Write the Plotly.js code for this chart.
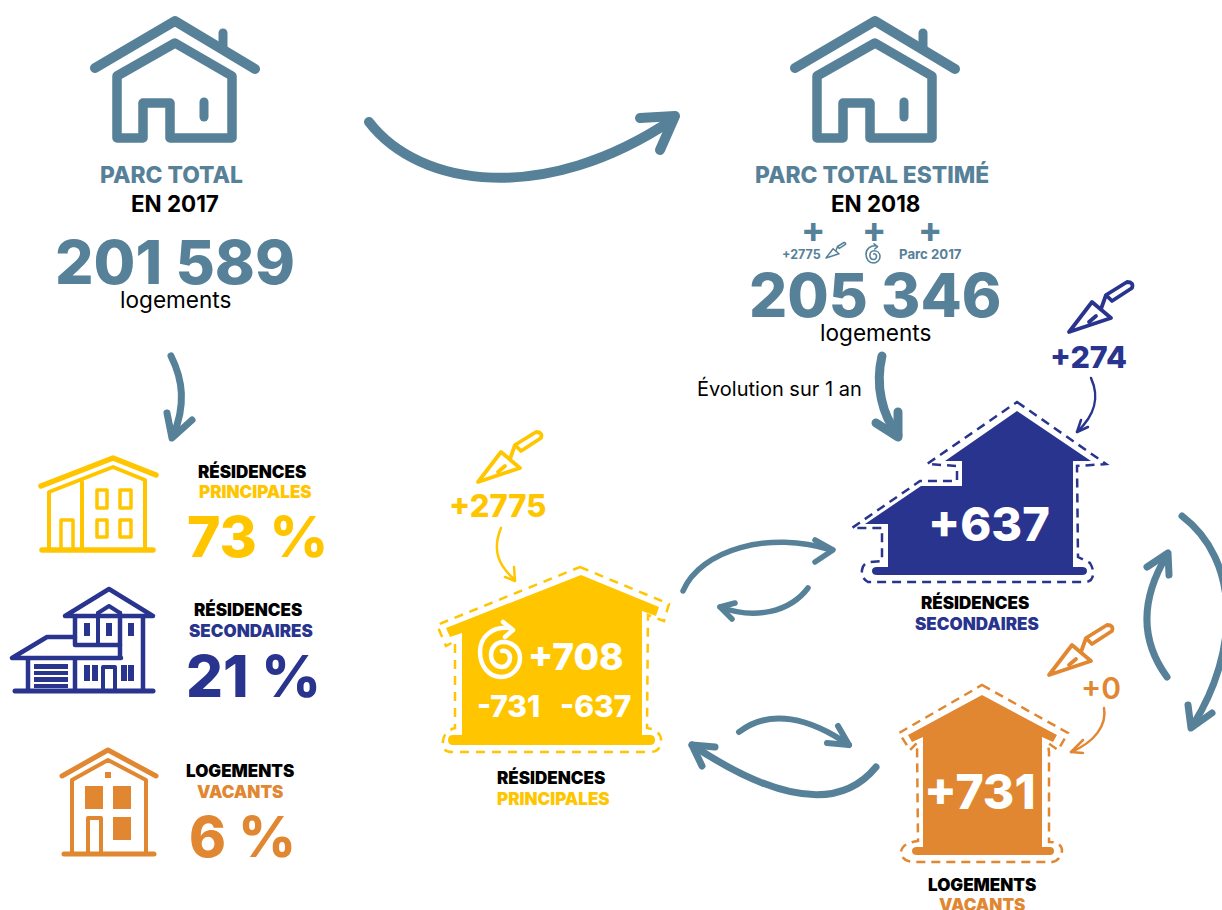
<!DOCTYPE html>
<html><head><meta charset="utf-8">
<script src="https://cdn.plot.ly/plotly-3.0.1.min.js"></script>
<style>
html,body{margin:0;padding:0;background:#fff}
#c{width:1222px;height:910px}
.shapelayer path{stroke-linecap:round;stroke-linejoin:round}
.shapelayer path[style*="dasharray: 9"]{stroke-linecap:butt;stroke-linejoin:miter}
</style></head><body><div id="c"></div>
<script>
const BLUE='#568198',YEL='#ffc600',NAVY='#29348e',ORA='#e18731',BLK='#000',WHT='#fff';
const FONT='Inter, Lato, sans-serif';

// values
const parcTotal=['201 589','205 346'];
const partShares=['73 %','21 %','6 %'];
const newBuild=['+2775','+274','+0'];
const netChange=['+708','+637','+731'];
const outflows=['-731','-637'];
const categories=[['RÉSIDENCES','PRINCIPALES'],['RÉSIDENCES','SECONDAIRES'],['LOGEMENTS','VACANTS']];

// text rows: text, x, y, size, colour, weight
const T=[];
const t=(s,x,y,size,color,weight)=>T.push({s,x,y,size,color,weight});
const HS=17,HW=900;
t('PARC TOTAL',171,174,22.8,BLUE,800);
t('EN 2017',175,203,22.4,BLK,700);
t(parcTotal[0],175,262,60.5,BLUE,800);
t('logements',175,299,22.6,BLK,400);
t('PARC TOTAL ESTIMÉ',872,174,22.8,BLUE,800);
t('EN 2018',875,203,22.4,BLK,700);
t('+',813,229,36,BLUE,700);t('+',874,229,36,BLUE,700);t('+',930,229,36,BLUE,700);
t('+2775',801,254,12.5,BLUE,700);
t('Parc 2017',930,254,13.2,BLUE,700);
t(parcTotal[1],875,295,60,BLUE,800);
t('logements',875,332,22.6,BLK,400);
t('Évolution sur 1 an',779,388,20,BLK,400);
t(categories[0][0],252,471,HS,BLK,HW);t(categories[0][1],255,492,HS,YEL,HW);
t(partShares[0],257,536,57,YEL,800);
t(categories[1][0],248,609,HS,BLK,HW);t(categories[1][1],251,631,HS,NAVY,HW);
t(partShares[1],253,676,58,NAVY,800);
t(categories[2][0],240,771,HS,BLK,HW);t(categories[2][1],240,792,HS,ORA,HW);
t(partShares[2],242,837,56,ORA,800);
t(newBuild[0],497,505,31,YEL,800);
t(netChange[0],576,656,37,WHT,800);
t(outflows[0],508,706,30,WHT,800);t(outflows[1],595,706,30,WHT,800);
t(categories[0][0],551,777,HS,BLK,HW);t(categories[0][1],553,799,HS,YEL,HW);
t(newBuild[1],1088,356,30.5,NAVY,800);
t(netChange[1],989,523,47,WHT,800);
t(categories[1][0],975,602,HS,BLK,HW);t(categories[1][1],977,624,HS,NAVY,HW);
t(newBuild[2],1101,688,30,ORA,600);
t(netChange[2],980,791,48,WHT,800);
t(categories[2][0],982,885,HS,BLK,HW);t(categories[2][1],982,905,HS,ORA,HW);

// shape helpers
const S=[];
const st=(path,color,w)=>S.push({type:'path',path,xref:'x',yref:'y',line:{color,width:w},fillcolor:'rgba(0,0,0,0)'});
const fl=(path,color)=>S.push({type:'path',path,xref:'x',yref:'y',line:{width:0},fillcolor:color});
const da=(path,color,w,dash)=>S.push({type:'path',path,xref:'x',yref:'y',line:{color,width:w,dash},fillcolor:'rgba(0,0,0,0)'});
const xf=(p,sc,dx,dy)=>{let i=0;return p.replace(/-?\d+(\.\d+)?/g,n=>{const v=+n;const r=(i++%2===0)?v*sc+dx:v*sc+dy;return r.toFixed(1)})};
const rc=(a,b,c,d)=>`M${a},${b} L${c},${b} L${c},${d} L${a},${d} Z`;

// top houses
const roof='M95,68 L175,21 L255,69',chim='M223,33 L223,48',
 body='M117,138 L143,138 L143,103 L170,103 L170,138 L232,138 L232,76 L175,43 L117,76 Z',win='M204,102 L204,117';
[0,700].forEach(d=>{st(xf(roof,1,d,0),BLUE,10);st(xf(chim,1,d,0),BLUE,9);st(xf(body,1,d,0),BLUE,9.5);st(xf(win,1,d,0),BLUE,9);});

// arrows
const arrows=[
 ['M369,122 C 420,188 545,205 672,120','M640,118 L675,116 L660,150',BLUE,10],
 ['M171,356 C 183,380 186,405 173,436','M167,413 L172,438 L192,420',BLUE,7],
 ['M882,356 C 875,385 882,415 898,435','M876,423 L898,437 L898,412',BLUE,9],
 ['M683,591 C 700,550 770,530 831,550','M815,540 L833,550 L815,562',BLUE,5.5],
 ['M808,588 C 790,612 755,620 720,607','M735,603 L720,607 L732,619',BLUE,5.5],
 ['M739,732 C 770,708 810,718 849,745','M838,726 L849,745 L827,743',BLUE,6],
 ['M876,767 C 845,805 790,810 692,745','M715,747 L692,745 L702,766',BLUE,7],
 ['M1182,516 C 1240,560 1240,650 1193,725','M1188,705 L1191,728 L1212,713',BLUE,7],
 ['M1167,677 C 1140,640 1140,600 1167,555','M1147,567 L1168,553 L1169,575',BLUE,7],
 ['M501,528 C 492,550 498,565 515,580','M505,577 L515,581 L514,567',YEL,2.5],
 ['M1091,378 C 1100,398 1095,415 1077,432','M1088,427 L1077,432 L1081,420',NAVY,2.5],
 ['M1104,708 C 1107,725 1095,742 1071,752','M1083,753 L1071,752 L1083,740',ORA,2.5]
];
arrows.forEach(a=>{st(a[0],a[2],a[3]);st(a[1],a[2],a[3]);});

// filled houses
fl('M581,575 L659,607 L656,616 L642,611 L642,735 L650,735 Q655,735 655,740 Q655,745 650,745 L453,745 Q448,745 448,740 Q448,735 453,735 L462,735 L462,633 L450,637 L446,628 Z',YEL);
da('M580,567 L669,604 L664,621 L648,615 L647,728 L652,729 Q662,733 661,742 Q660,752 650,752 L452,752 Q441,752 443,741 Q444,731 455,728 L455,641 L446,646 L437,625 Z',YEL,2.5,'9px,7px');
fl('M1017,411 L1091,461 L1073,461 L1073,567 L1082,567 Q1087,567 1087,571 Q1087,575 1082,575 L877,575 Q872,575 872,571 Q872,567 877,567 L888,567 L888,524 L865,524 L921,486 L962,486 L962,461 L945,461 Z',NAVY);
da('M1017,402 L1106,464 L1077,466 L1078,557 L1090,563 Q1094,570 1093,575 Q1092,582 1085,582 L868,582 Q861,578 862,570 Q863,563 870,562 L882,561 L882,528 L852,528 L920,481 L957,481 L957,466 L927,464 Z',NAVY,2.5,'9px,6px');
fl('M982,695 L1057,735 L1053,742 L1042,737 L1042,847 L1050,847 Q1054,847 1054,851 Q1054,855 1050,855 L917,855 Q912,855 912,851 Q912,847 917,847 L923,847 L923,737 L912,742 L908,735 Z',ORA);
da('M982,685 L1068,733 L1058,750 L1048,743 L1049,752 L1049,842 Q1062,842 1062,851 Q1060,861 1052,862 L912,862 Q901,860 901,852 Q902,843 918,841 L917,743 L910,750 L899,733 Z',ORA,2.5,'9px,6px');

// trowels
const blade='M478,482 L501,452 L520,468 Z',shaft='M510,459 L515,445 L536,432 Q543,432 541,438 L521,451 L515,445',notch='M498,472 L505,466';
[[1,0,0,YEL,3.8],[1,591,-150,NAVY,3.8],[1,571,193,ORA,3.8]].forEach(a=>{
 [blade,shaft,notch].forEach(p=>st(xf(p,a[0],a[1],a[2]),a[3],a[4]));
});
[blade,shaft].forEach(p=>st(xf(p,0.31,826-478*0.31,258-482*0.31),BLUE,1.5));

// spirals
const spiral='M510,628 C 492,626 480,637 480,652 C 480,666 489,677 501,677 C 512,677 520,668 520,658 C 520,648 512,642 503,642 C 496,642 491,648 491,655 C 491,662 496,667 502,667 C 507,667 510,662 510,658 C 510,653 506,650 502,651';
const shead='M503,622 L513,630 L505,637';
st(spiral,WHT,4.5);st(shead,WHT,4.5);
st(xf(spiral,0.35,873-500*0.35,256-657*0.35),BLUE,1.6);st(xf(shead,0.35,873-500*0.35,256-657*0.35),BLUE,1.6);

// yellow icon
st('M41,486 L113,458 L156,475',YEL,5.5);
st('M49,550 L49,492 L113,467 L145,480 L145,550',YEL,4);
st('M82,482 L82,550',YEL,4);
st('M42,550 L153,550',YEL,5.5);
st('M61,550 L61,520 L73,520 L73,550',YEL,3.5);
[[97,490,107,508],[120,490,131,508],[97,520,107,537],[120,520,131,537]].forEach(r=>st(rc(...r),YEL,3.5));

// navy icon
st('M65,616 L109,589 L153,616 Z',NAVY,4.5);
st('M75,617 L75,645 L120,645',NAVY,4.5);
st('M143,617 L143,690',NAVY,4.5);
st('M120,613 L120,657',NAVY,4.5);
st('M98,613 L98,645',NAVY,4);
st('M98,613 L109,606 L120,613',NAVY,4);
st('M75,637 L47,637 L12,658 L121,658',NAVY,4.5);
st('M28,659 L28,690',NAVY,4.5);st('M75,659 L75,690',NAVY,4.5);
[[84,623,90,636],[106,623,112,636],[128,623,134,636],
 [34,664,68,669],[34,671,68,675],[34,677,68,682],[34,684,68,688],
 [84,665,90,681],[92,665,98,681],[121,665,127,681],[128,665,134,681]].forEach(r=>fl(rc(...r),NAVY));
st('M103,690 L103,667 L115,667 L115,690',NAVY,4);
st('M15,691 L153,691',NAVY,5);

// orange icon
st('M62,776 L108,750 L156,776',ORA,5);
st('M72,853 L72,780 L108,760 L146,780 L146,853',ORA,4);
[[105,772,111,778],[85,786,103,809],[113,786,131,809],[113,817,131,840]].forEach(r=>fl(rc(...r),ORA));
st('M88,853 L88,818 L101,818 L101,853',ORA,4);
st('M64,854 L154,854',ORA,5);

const annotations=T.map(a=>({x:a.x,y:a.y,xref:'x',yref:'y',text:a.s,showarrow:false,xanchor:'center',yanchor:'middle',
 font:{family:FONT,size:a.size,color:a.color,weight:a.weight}}));

Plotly.newPlot('c',[{type:'scatter',x:[],y:[],hoverinfo:'skip'}],{
 width:1222,height:910,margin:{l:0,r:0,t:0,b:0,pad:0},
 paper_bgcolor:'#fff',plot_bgcolor:'#fff',showlegend:false,
 xaxis:{range:[0,1222],visible:false,fixedrange:true},
 yaxis:{range:[910,0],visible:false,fixedrange:true},
 shapes:S,annotations
},{displayModeBar:false,staticPlot:true});
</script></body></html>
